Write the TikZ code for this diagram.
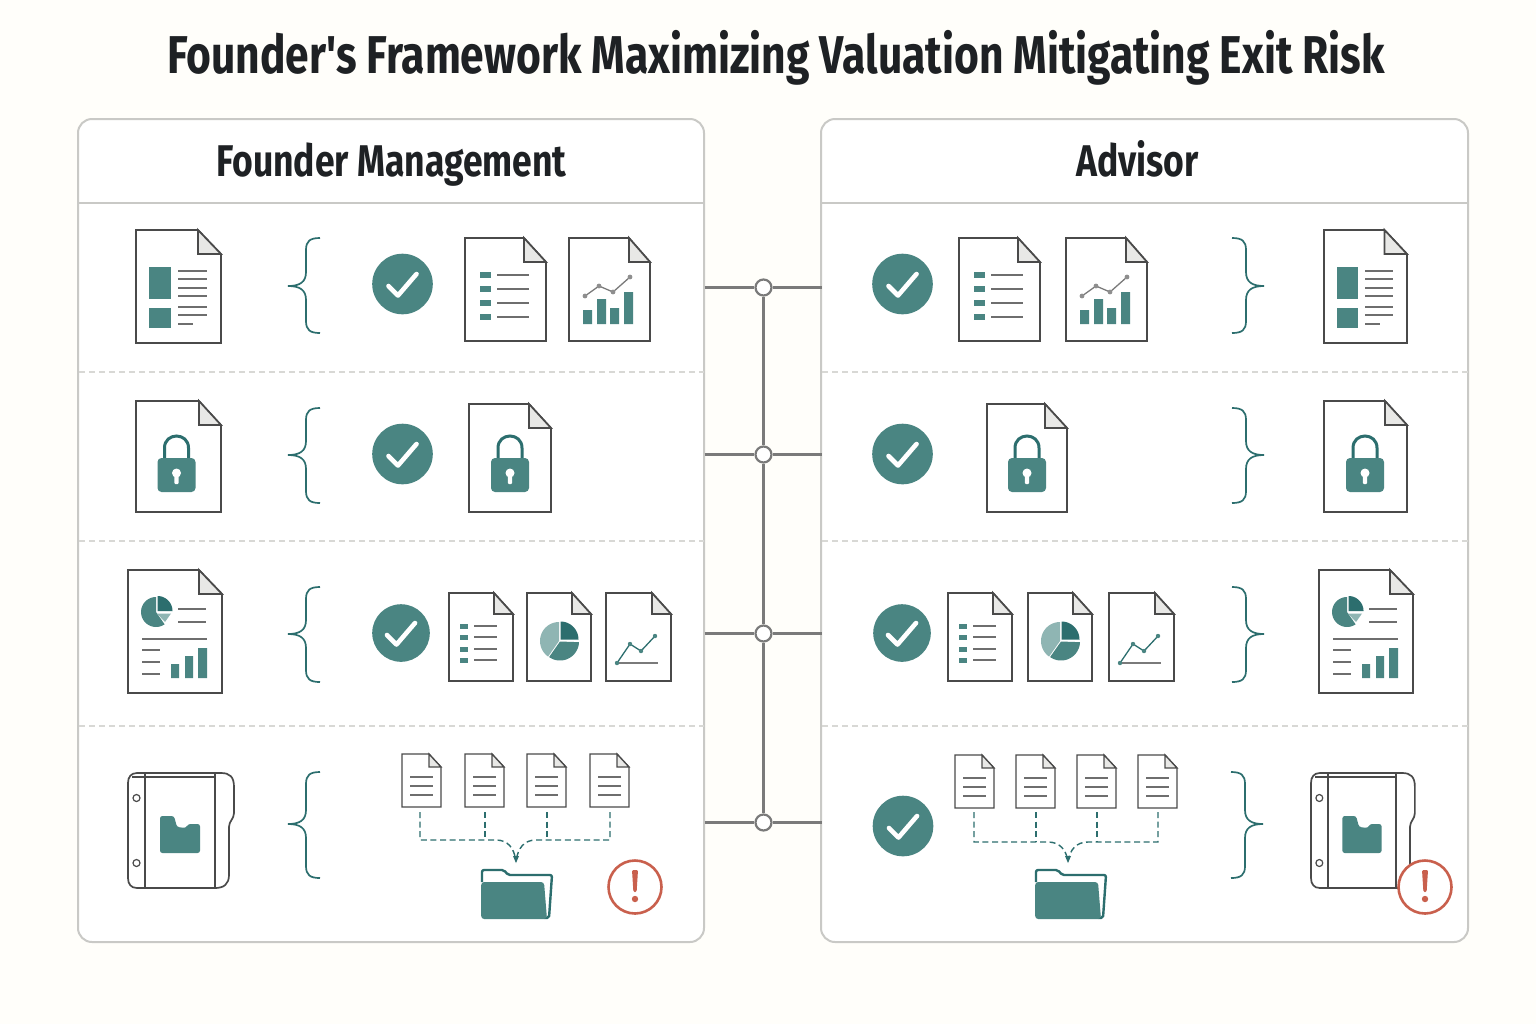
\documentclass[tikz,border=0pt]{standalone}
\usepackage{fontspec}
\newfontfamily\tfont{Fira Sans}[FakeStretch=0.80]
\usetikzlibrary{arrows.meta}
\definecolor{bgc}{HTML}{FFFEFA}
\definecolor{tealc}{HTML}{4A8582}
\definecolor{tealdk}{HTML}{2C6E6E}
\definecolor{teallt}{HTML}{8FB5B3}
\definecolor{inkc}{HTML}{4A4A4A}
\definecolor{rulec}{HTML}{C9C9C6}
\definecolor{dashc}{HTML}{D8D8D5}
\definecolor{foldc}{HTML}{E8E8E6}
\definecolor{linec}{HTML}{6E6E6E}
\definecolor{redc}{HTML}{C9604D}
\definecolor{busc}{HTML}{7A7A7A}
\definecolor{titlec}{HTML}{1E2124}
\tikzset{
  x=0.5pt,y=-0.5pt,
  panelbox/.style={draw=rulec,line width=1pt,rounded corners=7pt,fill=white},
  divider/.style={draw=rulec,line width=0.7pt},
  rowdash/.style={draw=dashc,line width=0.6pt,dash pattern=on 3pt off 2pt},
  pageline/.style={draw=inkc,line width=0.85pt,line join=miter},
  txtline/.style={draw=linec,line width=0.7pt},
  bracel/.style={draw=tealdk,line width=0.85pt},
  busline/.style={draw=busc,line width=1.1pt},
  junc/.style={circle,draw=busc,line width=1.1pt,fill=white,minimum size=8pt,inner sep=0pt},
  disc/.style={circle,fill=tealc,inner sep=0pt},
  tick/.style={draw=white,line width=2.3pt,line cap=round,line join=round},
  flow/.style={draw=tealdk,line width=0.7pt,dash pattern=on 3pt off 1.8pt},
  titletext/.style={font=\tfont\bfseries\fontsize{26.6}{30}\selectfont,text=titlec,inner sep=0pt,anchor=base},
  headtext/.style={font=\tfont\bfseries\fontsize{22.2}{25}\selectfont,text=titlec,inner sep=0pt,anchor=base},
}
% page outline
\newcommand\pageshape[4]{%
  \draw[pageline,fill=white] (0,0) -- ({#1-#3},0) -- (#1,#4) -- (#1,#2) -- (0,#2) -- cycle;
  \draw[pageline,fill=foldc] ({#1-#3},0) -- ({#1-#3},#4) -- (#1,#4) -- cycle;}
\newcommand\wedgep[6]{\fill[#6] (#1,#2) -- plot[domain=#4:#5,samples=24] ({#1+#3*cos(\x)},{#2+#3*sin(\x)}) -- cycle;}
% lock: centre x, bottom y
\newcommand\lockp[2]{%
  \draw[tealdk,line width=1.5pt] ({#1-12},{#2-33}) -- ({#1-12},{#2-44}) .. controls ({#1-12},{#2-60}) and ({#1+12},{#2-60}) .. ({#1+12},{#2-44}) -- ({#1+12},{#2-33});
  \fill[tealc,rounded corners=2pt] ({#1-19},{#2-34}) rectangle ({#1+19},#2);
  \fill[white] (#1,{#2-19}) circle[radius=4.5];
  \fill[white,rounded corners=0.5pt] ({#1-2.2},{#2-19}) rectangle ({#1+2.2},{#2-8});}
% icons (x y xscale yscale)
\newcommand\imain[4]{\begin{scope}[shift={(#1,#2)},xscale=#3,yscale=#4]
  \pageshape{85}{113}{23}{24}
  \fill[tealc] (13,37) rectangle (35,69);
  \fill[tealc] (13,78) rectangle (35,98);
  \foreach \yy in {41,49,58,66,77,85}{\draw[txtline] (42,\yy) -- (71,\yy);}
  \draw[txtline] (42,94) -- (57,94);
\end{scope}}
\newcommand\ilist[4]{\begin{scope}[shift={(#1,#2)},xscale=#3,yscale=#4]
  \pageshape{81}{103}{22}{24}
  \foreach \yy in {37,51,65,79}{\fill[tealc] (15,\yy-3) rectangle (26,\yy+3);\draw[txtline] (32,\yy) -- (64,\yy);}
\end{scope}}
\newcommand\ichart[4]{\begin{scope}[shift={(#1,#2)},xscale=#3,yscale=#4]
  \pageshape{81}{103}{21}{24}
  \fill[tealc] (14,72) rectangle (23,86) (28,61) rectangle (37,86) (41,70) rectangle (50,86) (55,54) rectangle (64,86);
  \draw[busc,line width=0.65pt] (16,58) -- (30,48) -- (44,54) -- (61,39);
  \foreach \px/\py in {16/58,30/48,44/54,61/39}{\fill[busc!85] (\px,\py) circle[radius=2.4];}
\end{scope}}
\newcommand\ilockdoc[6]{\begin{scope}[shift={(#1,#2)},xscale=#3,yscale=#4]
  \pageshape{#5}{#6}{22}{24}
\end{scope}}
\newcommand\ipiedoc[4]{\begin{scope}[shift={(#1,#2)},xscale=#3,yscale=#4]
  \pageshape{94}{123}{23}{24}
  \wedgep{28}{42}{15}{55}{270}{tealc}
  \wedgep{29.5}{41}{15}{270}{360}{tealdk}
  \fill[teallt] (29,43.5) -- (43,43.5) -- (37,52) -- cycle;
  \draw[txtline] (50,39) -- (78,39) (50,52) -- (78,52) (14,69) -- (79,69);
  \foreach \yy in {80,92,104}{\draw[txtline] (14,\yy) -- (32,\yy);}
  \fill[tealc] (43,94) rectangle (51,108) (57,86) rectangle (65,108) (70,78) rectangle (79,108);
\end{scope}}
\newcommand\islist[4]{\begin{scope}[shift={(#1,#2)},xscale=#3,yscale=#4]
  \pageshape{64}{88}{19}{21}
  \foreach \yy in {33,44,56,67}{\fill[tealc] (11,\yy-2.5) rectangle (19,\yy+2.5);\draw[txtline] (25,\yy) -- (48,\yy);}
\end{scope}}
\newcommand\ispie[4]{\begin{scope}[shift={(#1,#2)},xscale=#3,yscale=#4]
  \pageshape{64}{88}{19}{21}
  \wedgep{32}{48}{19}{125}{270}{teallt}
  \wedgep{33}{48.5}{19}{2}{125}{tealc}
  \wedgep{33.5}{46.5}{18}{270}{360}{tealdk}
\end{scope}}
\newcommand\isline[4]{\begin{scope}[shift={(#1,#2)},xscale=#3,yscale=#4]
  \pageshape{65}{88}{19}{21}
  \draw[busc,line width=0.65pt] (11,70) -- (52,70);
  \draw[tealdk,line width=0.65pt] (11,70) -- (24,51) -- (35,58) -- (49,43);
  \foreach \px/\py in {11/70,24/51,35/58,49/43}{\fill[tealc] (\px,\py) circle[radius=2.2];}
\end{scope}}
\newcommand\itiny[2]{\begin{scope}[shift={(#1,#2)}]
  \draw[pageline,line width=0.65pt,fill=white] (0,0) -- (27,0) -- (39,13) -- (39,53) -- (0,53) -- cycle;
  \draw[pageline,line width=0.65pt,fill=foldc] (27,0) -- (27,13) -- (39,13) -- cycle;
  \foreach \yy in {23,32,41}{\draw[txtline,line width=0.55pt] (8,\yy) -- (31,\yy);}
\end{scope}}
\newcommand\ibinder[4]{\begin{scope}[shift={(#1,#2)},xscale=#3,yscale=#4]
  \draw[pageline,fill=white] (9,0) -- (93,0) .. controls (102,0) and (106,4) .. (106,14) -- (106,40) .. controls (106,46) and (101,48) .. (101,54) -- (101,102) .. controls (101,111) and (96,115) .. (87,115) -- (9,115) .. controls (3,115) and (0,111) .. (0,105) -- (0,10) .. controls (0,4) and (3,0) .. (9,0) -- cycle;
  \draw[pageline] (17,0) -- (17,115) (87,0) -- (87,115);
  \draw[pageline,line width=0.6pt] (4,4) -- (87,4);
  \draw[pageline,line width=0.6pt] (8.5,25) circle[radius=3.5] (8.5,90) circle[radius=3.5];
  \fill[tealc,rounded corners=1.2pt] (32,43) -- (46,43) -- (49,54) -- (58,55) -- (60,51) -- (72,51) -- (72,80) -- (32,80) -- cycle;
\end{scope}}
\newcommand\ifolder[2]{\begin{scope}[shift={(#1,#2)}]
  \draw[tealdk,line width=1.2pt,line join=round,fill=white,rounded corners=1pt] (0,14) -- (0,2) -- (22,2) -- (26,7) -- (70,7) -- (67,50) -- (62,50);
  \fill[tealc,rounded corners=1.5pt] (-0.8,14) -- (62,14) -- (65,51) -- (-0.8,51) -- cycle;
\end{scope}}
\newcommand\ialert[3]{%
  \node[circle,draw=redc,line width=1.3pt,fill=white,minimum size=26.5pt,inner sep=0pt] (#1) at (#2,#3) {};
  \fill[redc,rounded corners=0.6pt] ({#2-3},{#3-17}) -- ({#2+3},{#3-17}) -- ({#2+1.6},{#3+5}) -- ({#2-1.6},{#3+5}) -- cycle;
  \fill[redc] (#2,{#3+12}) circle[radius=3.2];}
\newcommand\ichk[4]{%
  \node[disc,minimum size=#4pt] (#1) at (#2,#3) {};
  \draw[tick] ({#2-14},{#3+2}) -- ({#2-4.5},{#3+11.5}) -- ({#2+14},{#3-10});}
% brace: spine x, mirror, top, mid, bottom
\newcommand\ibrace[5]{\begin{scope}[shift={(#1,0)},xscale=#2]
  \draw[bracel] (14,#3) .. controls (4,#3) and (0,{#3+3}) .. (0,{#3+12}) -- (0,{#4-14}) .. controls (0,{#4-4}) and (-6,#4) .. (-18,#4) .. controls (-6,#4) and (0,{#4+4}) .. (0,{#4+14}) -- (0,{#5-12}) .. controls (0,{#5-3}) and (4,#5) .. (14,#5);
\end{scope}}
% merge flow
\newcommand\iflow[7]{%
  \draw[flow] (#1,812) -- (#1,#7) -- ({#5-20},#7) .. controls ({#5-8},#7) and ({#5-2},{#7+8}) .. (#5,861);
  \draw[flow] (#4,812) -- (#4,#7) -- ({#5+20},#7) .. controls ({#5+8},#7) and ({#5+2},{#7+8}) .. (#5,861);
  \draw[flow] (#2,812) -- (#2,#7) (#3,812) -- (#3,#7);
  \fill[tealdk] ({#5-3},856) -- ({#5+3},856) -- (#5,863) -- cycle;}
\begin{document}
\begin{tikzpicture}
\useasboundingbox (0,0) rectangle (1536,1024);
\fill[bgc] (0,0) rectangle (1536,1024);
\node[titletext] (title) at (776,73.5) {Founder's Framework Maximizing Valuation Mitigating Exit Risk};
% panels
\node[panelbox,minimum width=313pt,minimum height=411.5pt,inner sep=0pt] (lp) at (391,530.5) {};
\node[panelbox,minimum width=323.5pt,minimum height=411.5pt,inner sep=0pt] (rp) at (1144.5,530.5) {};
\node[headtext] (lh) at (391.5,176.5) {Founder Management};
\node[headtext] (rh) at (1137.5,176.5) {Advisor};
\draw[divider] (78.5,203) -- (704,203) (821.5,203) -- (1468,203);
\draw[rowdash] (79,372) -- (704,372) (79,541) -- (704,541) (79,726) -- (704,726);
\draw[rowdash] (822,372) -- (1468,372) (822,541) -- (1468,541) (822,726) -- (1468,726);
% bus
\node[junc] (j1) at (763.5,287.5) {};
\node[junc] (j2) at (763.5,454.5) {};
\node[junc] (j3) at (763.5,633.5) {};
\node[junc] (j4) at (763.5,822.5) {};
\foreach \nn/\yy in {1/287.5,2/454.5,3/633.5,4/822.5}{
  \coordinate (la\nn) at (704.5,\yy);
  \coordinate (ra\nn) at (821.5,\yy);
  \draw[busline] (la\nn) -- (j\nn) -- (ra\nn);
}
\draw[busline] (j1) -- (j2);
\draw[busline] (j2) -- (j3);
\draw[busline] (j3) -- (j4);
% left column
\imain{136}{230}{1}{1}
\ibrace{306}{1}{238}{286}{333}
\ichk{cl1}{402.5}{284}{30.3}
\ilist{465}{238}{1}{1}
\ichart{569}{238}{1}{1}
\ilockdoc{136}{401}{1}{1}{85}{111}\lockp{176.5}{492}
\ibrace{306}{1}{408}{455}{503}
\ichk{cl2}{402.5}{454}{30.3}
\ilockdoc{469}{404}{1}{1}{82}{108}\lockp{510}{492}
\ipiedoc{128}{570}{1}{1}
\ibrace{306}{1}{587}{634}{682}
\ichk{cl3}{401}{633}{28.8}
\islist{449}{593}{1}{1}
\ispie{527}{593}{1}{1}
\isline{606}{593}{1}{1}
\ibinder{128}{773}{1}{1}
\ibrace{306}{1}{772}{824}{878}
\itiny{402}{754}\itiny{465}{754}\itiny{527}{754}\itiny{590}{754}
\iflow{420}{485}{547}{610}{516}{0}{840}
\ifolder{482}{868}
\ialert{al}{635}{887}
% right column
\ichk{cr1}{902.5}{284}{30.3}
\ilist{959}{238}{1}{1}
\ichart{1066}{238}{1}{1}
\ibrace{1246}{-1}{238}{286}{333}
\imain{1324}{230}{0.976}{1}
\ichk{cr2}{902.5}{454}{30.3}
\ilockdoc{987}{404}{1}{1}{80}{108}\lockp{1027}{492}
\ibrace{1246}{-1}{408}{455}{503}
\ilockdoc{1324}{401}{1}{1}{83}{111}\lockp{1365}{492}
\ichk{cr3}{902}{633}{28.8}
\islist{948}{593}{1}{1}
\ispie{1028}{593}{1}{1}
\isline{1109}{593}{1}{1}
\ibrace{1246}{-1}{587}{634}{682}
\ipiedoc{1319}{570}{1}{1}
\ichk{cr4}{903}{826}{30.3}
\itiny{955}{755}\itiny{1016}{755}\itiny{1077}{755}\itiny{1138}{755}
\iflow{974}{1036}{1097}{1158}{1068}{0}{842}
\ifolder{1036}{868}
\ibrace{1245}{-1}{772}{824}{878}
\ibinder{1311}{773}{0.98}{1}
\ialert{ar}{1425}{887}
\end{tikzpicture}
\end{document}
